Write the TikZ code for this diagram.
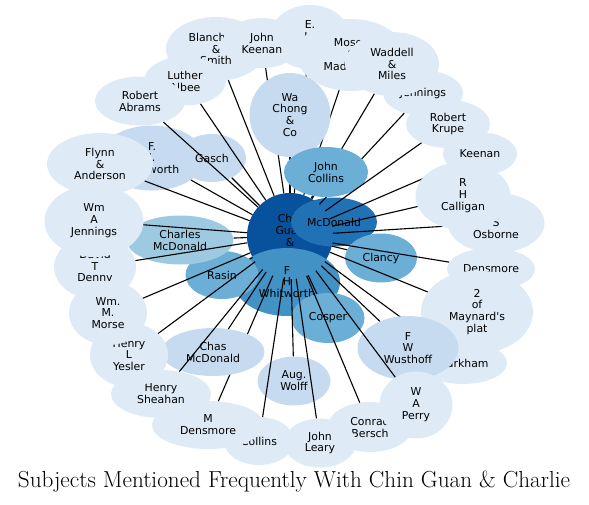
\documentclass[tikz,border=0pt]{standalone}
\usepackage{fontspec}
\usepackage{tikz}
\usetikzlibrary{shapes.geometric}
\newfontfamily\labelfont{DejaVu Sans}

\definecolor{blueA}{HTML}{08519C}
\definecolor{blueB}{HTML}{2171B5}
\definecolor{blueC}{HTML}{4292C6}
\definecolor{blueD}{HTML}{6BAED6}
\definecolor{blueE}{HTML}{9ECAE1}
\definecolor{blueF}{HTML}{C6DBEF}
\definecolor{blueG}{HTML}{DEEBF7}

\tikzset{
  subject/.style={ellipse, draw=none, inner sep=0pt, align=center,
    font=\labelfont\fontsize{10.9}{11.9}\selectfont},
  link/.style={black, line width=1.1pt},
}

\begin{document}
\begin{tikzpicture}[x=1pt, y=-1pt]
    \useasboundingbox (0,0) rectangle (589,504);

    % Centre
    \node[subject, fill=blueA, minimum width=86pt, minimum height=86pt] (cg) at (290,236) {Chin\\Guan\\\&\\Charlie};

    % Inner ring
    \node[subject, fill=blueB, minimum width=86pt, minimum height=49pt] (mcdonald) at (334,222) {McDonald};
    \node[subject, fill=blueC, minimum width=106pt, minimum height=68pt] (whitworth) at (287,282) {F\\H\\Whitworth};
    \node[subject, fill=blueD, minimum width=73pt, minimum height=48pt] (rasin) at (222,275) {Rasin};
    \draw[link] (cg) -- (rasin);
    \node[subject, fill=blueD, minimum width=72pt, minimum height=49pt] (clancy) at (381,258) {Clancy};
    \draw[link] (cg) -- (clancy);
    \node[subject, fill=blueD, minimum width=73pt, minimum height=50pt] (cosper) at (328,318) {Cosper};
    \draw[link] (cg) -- (cosper);
    \node[subject, fill=blueE, minimum width=107pt, minimum height=49pt] (charlesmcd) at (180,240) {Charles\\McDonald};
    \draw[link] (cg) -- (charlesmcd);
    \node[subject, fill=blueF, minimum width=105pt, minimum height=65pt] (ainsworth) at (152,158) {F.\\J.\\Ainsworth};
    \draw[link] (cg) -- (ainsworth);
    \node[subject, fill=blueF, minimum width=68pt, minimum height=48pt] (gasch) at (212,158) {Gasch};
    \draw[link] (cg) -- (gasch);

    % Top
    \node[subject, fill=blueG, minimum width=80pt, minimum height=64pt] (eh) at (310,37) {E.\\H.\\Hall};
    \draw[link] (cg) -- (eh);
    \node[subject, fill=blueG, minimum width=108pt, minimum height=72pt] (moses) at (351,55) {Moses\\\&\\Maddocks};
    \draw[link] (cg) -- (moses);
    \node[subject, fill=blueG, minimum width=80pt, minimum height=45pt] (jennings2) at (423,93) {Jennings};
    \draw[link] (cg) -- (jennings2);
    \node[subject, fill=blueG, minimum width=94pt, minimum height=64pt] (waddell) at (392,64) {Waddell\\\&\\Miles};
    \draw[link] (cg) -- (waddell);
    \node[subject, fill=blueG, minimum width=100pt, minimum height=64pt] (blanchard) at (216,49) {Blanchard\\\&\\Smith};
    \draw[link] (cg) -- (blanchard);
    \node[subject, fill=blueG, minimum width=82pt, minimum height=49pt] (albee) at (185,81) {Luther\\Albee};
    \draw[link] (cg) -- (albee);
    \node[subject, fill=blueG, minimum width=90pt, minimum height=49pt] (abrams) at (140,101) {Robert\\Abrams};
    \draw[link] (cg) -- (abrams);
    \node[subject, fill=blueG, minimum width=79pt, minimum height=50pt] (jkeenan) at (262,43) {John\\Keenan};
    \draw[link] (cg) -- (jkeenan);
    \node[subject, fill=blueF, minimum width=81pt, minimum height=84pt] (wachong) at (290,115) {Wa\\Chong\\\&\\Co};
    \draw[link] (cg) -- (wachong);
    \node[subject, fill=blueD, minimum width=84pt, minimum height=50pt] (jcollins) at (326,172) {John\\Collins};
    \draw[link] (cg) -- (jcollins);

    % Right
    \node[subject, fill=blueG, minimum width=84pt, minimum height=48pt] (krupe) at (448,124) {Robert\\Krupe};
    \draw[link] (cg) -- (krupe);
    \node[subject, fill=blueG, minimum width=74pt, minimum height=43pt] (keenan) at (480,154) {Keenan};
    \draw[link] (cg) -- (keenan);
    \node[subject, fill=blueG, minimum width=97pt, minimum height=60pt] (osborne) at (496,223) {J\\S\\Osborne};
    \draw[link] (cg) -- (osborne);
    \node[subject, fill=blueG, minimum width=95pt, minimum height=68pt] (calligan) at (463,196) {R\\H\\Calligan};
    \draw[link] (cg) -- (calligan);
    \node[subject, fill=blueG, minimum width=88pt, minimum height=42pt] (densmore) at (491,269) {Densmore};
    \draw[link] (cg) -- (densmore);
    \node[subject, fill=blueG, minimum width=88pt, minimum height=42pt] (markham) at (463,363) {Markham};
    \draw[link] (cg) -- (markham);
    \node[subject, fill=blueG, minimum width=112pt, minimum height=83pt] (maynard) at (477,312) {2\\of\\Maynard's\\plat};
    \draw[link] (cg) -- (maynard);
    \node[subject, fill=blueF, minimum width=101pt, minimum height=64pt] (wusthoff) at (408,348) {F\\W\\Wusthoff};
    \draw[link] (cg) -- (wusthoff);

    % Bottom
    \node[subject, fill=blueG, minimum width=85pt, minimum height=50pt] (bersch) at (370,427) {Conrad\\Bersch};
    \draw[link] (cg) -- (bersch);
    \node[subject, fill=blueG, minimum width=73pt, minimum height=67pt] (perry) at (416,405) {W\\A\\Perry};
    \draw[link] (cg) -- (perry);
    \node[subject, fill=blueF, minimum width=73pt, minimum height=49pt] (wolff) at (294,381) {Aug.\\Wolff};
    \draw[link] (cg) -- (wolff);
    \node[subject, fill=blueG, minimum width=72pt, minimum height=49pt] (leary) at (320,443) {John\\Leary};
    \draw[link] (cg) -- (leary);
    \node[subject, fill=blueG, minimum width=70pt, minimum height=48pt] (collins) at (259,441) {Collins};
    \draw[link] (cg) -- (collins);
    \node[subject, fill=blueG, minimum width=112pt, minimum height=48pt] (mdensmore) at (208,425) {M\\Densmore};
    \draw[link] (cg) -- (mdensmore);
    \node[subject, fill=blueF, minimum width=103pt, minimum height=48pt] (chasmcd) at (213,352) {Chas\\McDonald};
    \draw[link] (cg) -- (chasmcd);
    \node[subject, fill=blueG, minimum width=100pt, minimum height=48pt] (sheahan) at (161,394) {Henry\\Sheahan};
    \draw[link] (cg) -- (sheahan);

    % Left
    \node[subject, fill=blueG, minimum width=78pt, minimum height=64pt] (yesler) at (129,355) {Henry\\L\\Yesler};
    \draw[link] (cg) -- (yesler);
    \node[subject, fill=blueG, minimum width=82pt, minimum height=64pt] (denny) at (95,267) {David\\T\\Denny};
    \draw[link] (cg) -- (denny);
    \node[subject, fill=blueG, minimum width=78pt, minimum height=64pt] (morse) at (108,313) {Wm.\\M.\\Morse};
    \draw[link] (cg) -- (morse);
    \node[subject, fill=blueG, minimum width=99pt, minimum height=72pt] (jennings) at (94,221) {Wm\\A\\Jennings};
    \draw[link] (cg) -- (jennings);
    \node[subject, fill=blueG, minimum width=106pt, minimum height=62pt] (flynn) at (100,164) {Flynn\\\&\\Anderson};
    \draw[link] (cg) -- (flynn);

    % Title
    \node[font=\fontsize{23.2}{26}\selectfont] (title) at (294,482) {Subjects Mentioned Frequently With Chin Guan \& Charlie};
\end{tikzpicture}
\end{document}
